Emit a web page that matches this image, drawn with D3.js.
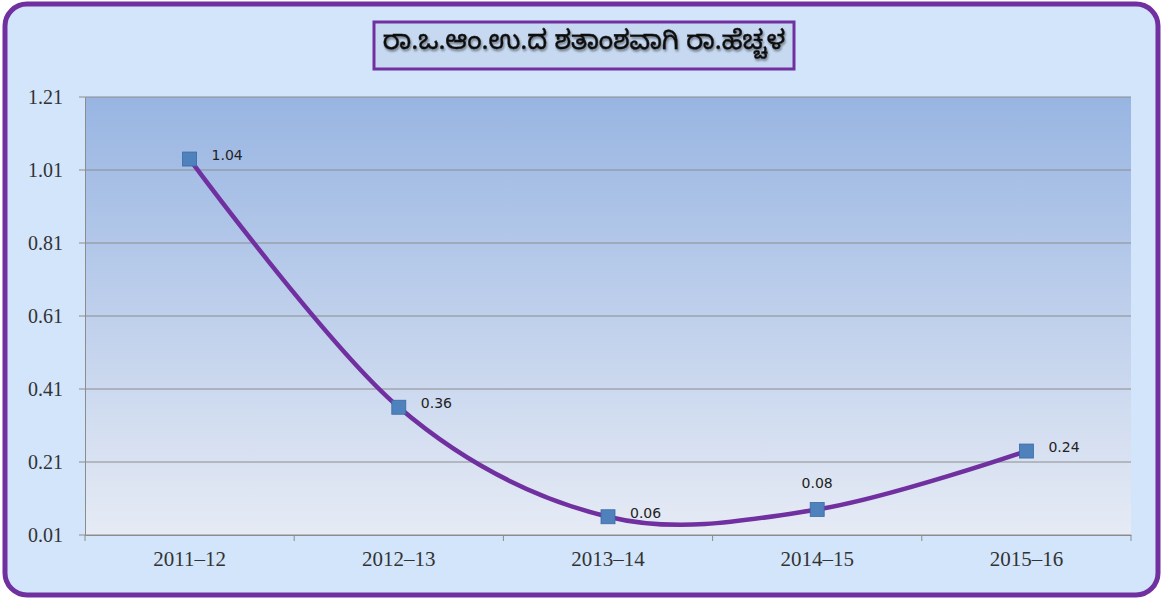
<!DOCTYPE html>
<html><head><meta charset="utf-8">
<script src="https://cdn.jsdelivr.net/npm/d3@7"></script>
<style>html,body{margin:0;padding:0;background:#fff;}svg{display:block;}</style>
</head><body>
<svg id="c" width="1163" height="600"></svg>
<script>
const title = "ರಾ.ಒ.ಆಂ.ಉ.ದ ಶತಾಂಶವಾಗಿ ರಾ.ಹೆಚ್ಚಳ";
const categories = ["2011–12","2012–13","2013–14","2014–15","2015–16"];
const values = [1.04, 0.36, 0.06, 0.08, 0.24];
const labels = ["1.04","0.36","0.06","0.08","0.24"];
const yTicks = [0.01, 0.21, 0.41, 0.61, 0.81, 1.01, 1.21];

const svg = d3.select("#c");
const defs = svg.append("defs");
const pg = defs.append("linearGradient").attr("id","pg").attr("x1",0).attr("y1",0).attr("x2",0).attr("y2",1);
pg.append("stop").attr("offset","0%").attr("stop-color","#98b5e2");
pg.append("stop").attr("offset","100%").attr("stop-color","#e6ebf5");
const f = defs.append("filter").attr("id","ts").attr("x","-5%").attr("y","-20%").attr("width","110%").attr("height","140%");
f.append("feDropShadow").attr("dx",1).attr("dy",2).attr("stdDeviation",0.8).attr("flood-color","#000").attr("flood-opacity",0.45);

// outer frame
svg.append("rect").attr("x",5).attr("y",4).attr("width",1153).attr("height",591)
  .attr("rx",22).attr("ry",22).attr("fill","#d2e5fb").attr("stroke","#7030a0").attr("stroke-width",5);

const m = {left:85, right:1131, top:97, bottom:535};
const x = d3.scaleBand().domain(categories).range([m.left, m.right]).padding(0);
const y = d3.scaleLinear().domain([0.01, 1.21]).range([m.bottom, m.top]);

// plot area
svg.append("rect").attr("x",m.left).attr("y",m.top).attr("width",m.right-m.left).attr("height",m.bottom-m.top)
  .attr("fill","url(#pg)");

// gridlines
svg.append("g").selectAll("line").data(yTicks).join("line")
  .attr("x1",m.left-6).attr("x2",m.right).attr("y1",d=>y(d)).attr("y2",d=>y(d))
  .attr("stroke","#8c8c8c").attr("stroke-width",1);

// y axis
const ya = svg.append("g").attr("transform",`translate(${m.left},0)`)
  .call(d3.axisLeft(y).tickValues(yTicks).tickFormat(d3.format(".2f")).tickSize(0).tickPadding(22));
ya.select(".domain").attr("stroke","#8c8c8c");
ya.selectAll("text").attr("font-family","'Liberation Serif','Times New Roman',serif").attr("font-size",20).attr("fill","#333");

// x axis
const xa = svg.append("g").attr("transform",`translate(0,${m.bottom})`)
  .call(d3.axisBottom(x).tickSize(0).tickPadding(16));
xa.select(".domain").attr("stroke","#8c8c8c");
xa.selectAll("text").attr("font-family","'Liberation Serif','Times New Roman',serif").attr("font-size",21).attr("fill","#333");
const bounds = categories.map(c=>x(c)).concat([x(categories[categories.length-1])+x.bandwidth()]);
svg.append("g").selectAll("line").data(bounds).join("line")
  .attr("x1",d=>d).attr("x2",d=>d).attr("y1",m.bottom).attr("y2",m.bottom+6)
  .attr("stroke","#8c8c8c");

// line
const cx = d => x(d) + x.bandwidth()/2;
const pts = categories.map((c,i)=>[cx(c), y(values[i])]);
svg.append("path").attr("d", d3.line().curve(d3.curveCardinal.tension(0))(pts))
  .attr("fill","none").attr("stroke","#7030a0").attr("stroke-width",4.5);

// markers
svg.append("g").selectAll("rect").data(pts).join("rect")
  .attr("x",d=>d[0]-7).attr("y",d=>d[1]-7).attr("width",14).attr("height",14)
  .attr("fill","#4f81bd").attr("stroke","#3a6aa5").attr("stroke-width",0.8);

// data labels
const lblPos = [[1,0],[1,0],[1,0],[0,-1],[1,0]];
svg.append("g").selectAll("text").data(pts).join("text")
  .attr("x",(d,i)=> lblPos[i][0]===1 ? d[0]+22 : d[0])
  .attr("y",(d,i)=> lblPos[i][1]===-1 ? d[1]-25 : d[1]-3)
  .attr("text-anchor",(d,i)=> lblPos[i][0]===1 ? "start" : "middle")
  .attr("dominant-baseline","middle")
  .attr("font-family","'DejaVu Sans',sans-serif").attr("font-size",14).attr("fill","#222")
  .text((d,i)=>labels[i]);

// title
svg.append("rect").attr("x",374).attr("y",22).attr("width",420).attr("height",47)
  .attr("fill","#c6d9f1").attr("stroke","#7030a0").attr("stroke-width",3);
svg.append("text").attr("x",584).attr("y",45).attr("text-anchor","middle").attr("dominant-baseline","central")
  .attr("font-family","'Noto Sans Kannada','Noto Sans','DejaVu Sans',sans-serif").attr("font-size",26).attr("font-weight","normal")
  .attr("stroke","#111").attr("stroke-width",0.4)
  .attr("fill","#111").attr("filter","url(#ts)").text(title);
</script>
</body></html>
